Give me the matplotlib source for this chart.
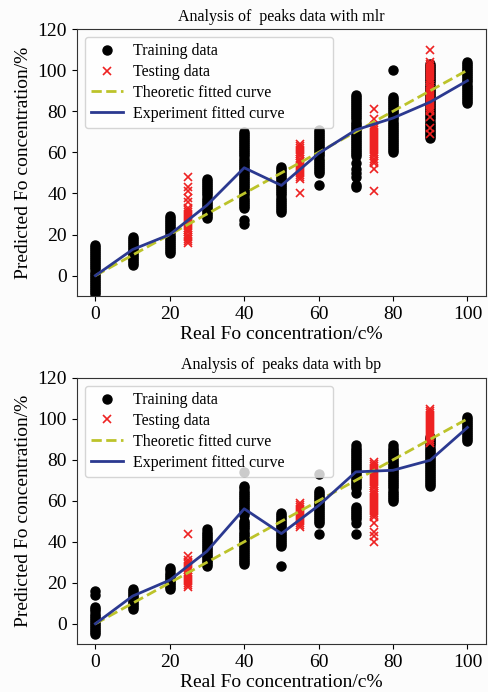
import numpy as np
import matplotlib
matplotlib.use('Agg')
import matplotlib.pyplot as plt
from matplotlib.lines import Line2D

plt.rcParams['font.family'] = ['Liberation Serif', 'DejaVu Serif']

# x positions of the sample groups
train_x = [0, 10, 20, 30, 40, 50, 60, 70, 80, 90, 100]
test_x = [25, 55, 75, 90]
fit_x = [0, 10, 20, 30, 40, 50, 60, 70, 80, 90, 100]
theory_y = [0, 10, 20, 30, 40, 50, 60, 70, 80, 90, 100]

# mlr model predictions (one list per group)
mlr_train = [
    [15, 14, 13, 12, 11, 10, 9, 8, 7, 6, 5, 4, 3, 2, 1, 0, -1, -2, -3, -4, -5, -6, -7, -8, -9],
    [19, 18, 17, 16, 15, 14, 13, 12, 11, 10, 9, 8, 7, 6, 5],
    [29, 28, 27, 26, 25, 24, 23, 22, 21, 20, 19, 18, 17, 16, 15, 14, 13, 12, 11],
    [47, 46, 45, 44, 43, 42, 41, 40, 39, 38, 37, 36, 35, 34, 33, 32, 31, 30, 29, 28],
    [70, 69, 68, 67, 66, 65, 64, 63, 62, 61, 60, 59, 58, 57, 56, 55, 54, 53, 52, 51, 50,
     49, 48, 47, 46, 45, 44, 43, 42, 41, 40, 39, 38, 37, 36, 35, 34, 33, 27, 25],
    [53, 52, 51, 50, 49, 48, 47, 46, 45, 44, 43, 42, 41, 40, 39, 38, 37, 36, 35, 34, 33, 32, 31],
    [71, 70, 69, 68, 67, 66, 65, 64, 63, 62, 61, 60, 59, 58, 57, 56, 55, 54, 53, 52, 51, 50, 44],
    [88, 87, 86, 85, 84, 83, 82, 81, 80, 79, 78, 77, 76, 75, 74, 73, 72, 71, 70, 69, 68,
     67, 66, 65, 64, 63, 62, 61, 60, 59, 58, 55, 52, 50, 48, 44, 43],
    [100, 87, 86, 85, 84, 83, 82, 81, 80, 79, 78, 77, 76, 75, 74, 73, 72, 71, 70, 69, 68,
     67, 66, 65, 64, 63, 62, 61, 60],
    [103, 102, 101, 100, 99, 98, 97, 96, 95, 94, 93, 92, 91, 90, 89, 88, 87, 86, 85, 84,
     83, 82, 81, 80, 79, 78, 77, 76, 75, 74, 73, 72, 71, 70, 69, 68, 67],
    [104, 103, 102, 101, 100, 99, 98, 97, 96, 95, 94, 93, 92, 91, 90, 89, 88, 87, 86, 85, 84],
]
mlr_test = [
    [48, 43, 41, 38, 36, 33, 32, 31, 30, 29, 28, 27, 26, 25, 24, 23, 22, 21, 20, 19, 18, 17, 16],
    [64, 63, 62, 61, 60, 59, 58, 57, 56, 55, 54, 53, 52, 51, 50, 49, 48, 47, 40],
    [81, 76, 73, 72, 71, 70, 69, 68, 67, 66, 65, 64, 63, 62, 61, 60, 59, 58, 57, 56, 55, 52, 41],
    [110, 104, 103, 102, 101, 100, 99, 98, 97, 96, 95, 94, 93, 92, 91, 90, 89, 88, 87, 86,
     85, 84, 83, 82, 81, 80, 77, 72, 69],
]
mlr_fit = [0, 12.7, 20, 34.3, 52.5, 43.9, 59.5, 70.9, 76.7, 84.5, 94.9]

# bp model predictions
bp_train = [
    [16, 14, 8, 7, 6, 5, 4, 3, 2, 1, 0, -1, -2, -3, -4, -5],
    [17, 16, 15, 14, 13, 12, 11, 10, 9, 8, 7],
    [27, 26, 25, 24, 23, 22, 21, 20, 19, 18, 17],
    [46, 45, 44, 43, 42, 41, 40, 39, 38, 37, 36, 35, 34, 33, 32, 31, 30, 29, 28],
    [74, 67, 66, 65, 64, 63, 62, 61, 60, 59, 58, 57, 56, 55, 54, 53, 50, 49, 48, 47, 46,
     45, 44, 43, 42, 41, 40, 39, 38, 37, 36, 35, 34, 33, 32, 31, 30, 29],
    [54, 53, 52, 51, 50, 49, 48, 47, 46, 45, 44, 43, 42, 41, 40, 39, 38, 28],
    [73, 65, 64, 63, 62, 61, 60, 59, 58, 57, 56, 55, 54, 53, 52, 51, 50, 49, 44],
    [87, 86, 85, 84, 83, 82, 81, 80, 79, 78, 77, 76, 75, 74, 73, 72, 71, 70, 69, 68, 67,
     66, 64, 57, 56, 55, 54, 53, 52, 51, 49, 44],
    [87, 86, 85, 84, 83, 82, 81, 80, 79, 78, 77, 76, 75, 74, 73, 72, 71, 70, 69, 68, 67,
     66, 65, 64, 63, 62, 61, 60],
    [91, 90, 89, 88, 87, 86, 85, 84, 83, 82, 81, 80, 79, 78, 77, 76, 75, 74, 73, 72, 71,
     70, 69, 68, 67],
    [101, 100, 99, 98, 97, 96, 95, 94, 93, 92, 91, 90, 89],
]
bp_test = [
    [44, 33, 31, 30, 29, 28, 27, 26, 25, 24, 23, 22, 21, 20, 19, 18],
    [59, 58, 57, 56, 55, 54, 53, 52, 51, 50, 49, 48, 47],
    [79, 78, 77, 76, 75, 74, 73, 72, 71, 70, 69, 68, 67, 66, 65, 64, 63, 62, 61, 60, 59,
     58, 57, 56, 55, 54, 53, 52, 49, 45, 43, 40],
    [105, 104, 103, 102, 101, 100, 99, 98, 97, 96, 95, 94, 93, 92, 91, 90, 89, 88],
]
bp_fit = [0, 13.5, 21.3, 35.4, 56.1, 44, 57.7, 74.1, 74.9, 79.8, 95.8]

line_blue = '#2b3990'
line_olive = '#bcc32a'
test_red = '#ee2222'


def draw(ax, train, test, fit, title):
    tx = np.repeat(train_x, [len(c) for c in train])
    ty = np.concatenate(train)
    sx = np.repeat(test_x, [len(c) for c in test])
    sy = np.concatenate(test)
    ax.plot(tx, ty, 'o', color='black', markersize=6.5, zorder=2)
    ax.plot(sx, sy, 'x', color=test_red, markersize=6, mew=1.2, zorder=3)
    ax.plot(fit_x, theory_y, '--', color=line_olive, lw=2, zorder=4)
    ax.plot(fit_x, fit, '-', color=line_blue, lw=2, zorder=5)
    ax.set_xlim(-5, 105)
    ax.set_ylim(-10, 120)
    ax.set_xticks([0, 20, 40, 60, 80, 100])
    ax.set_yticks([0, 20, 40, 60, 80, 100, 120])
    ax.tick_params(labelsize=14)
    ax.set_xlabel('Real Fo concentration/c%', fontsize=14, labelpad=2)
    ax.set_ylabel('Predicted Fo concentration/%', fontsize=14)
    ax.set_title(title, fontsize=11.5, pad=6)
    ax.set_facecolor('#fcfcfc')
    for s in ax.spines.values():
        s.set_color('#333333')
    handles = [
        Line2D([], [], marker='o', ls='none', color='black', markersize=6.5),
        Line2D([], [], marker='x', ls='none', color=test_red, markersize=6, mew=1.2),
        Line2D([], [], ls='--', color=line_olive, lw=2),
        Line2D([], [], ls='-', color=line_blue, lw=2),
    ]
    labels = ['Training data', 'Testing data', 'Theoretic fitted curve', 'Experiment fitted curve']
    leg = ax.legend(handles, labels, loc='upper left', fontsize=11.5, mode='expand',
                    bbox_to_anchor=(0.02, 0.5, 0.606, 0.47), borderaxespad=0,
                    labelspacing=0.3, handletextpad=0.6)
    leg.set_zorder(10)


fig = plt.figure(figsize=(4.89, 6.92), dpi=100, facecolor='#fcfcfc')
ax1 = fig.add_axes([0.157, 0.572, 0.837, 0.386])
ax2 = fig.add_axes([0.157, 0.069, 0.837, 0.385])
draw(ax1, mlr_train, mlr_test, mlr_fit, 'Analysis of  peaks data with mlr')
draw(ax2, bp_train, bp_test, bp_fit, 'Analysis of  peaks data with bp')

fig.savefig('out.png', dpi=100, facecolor=fig.get_facecolor())
